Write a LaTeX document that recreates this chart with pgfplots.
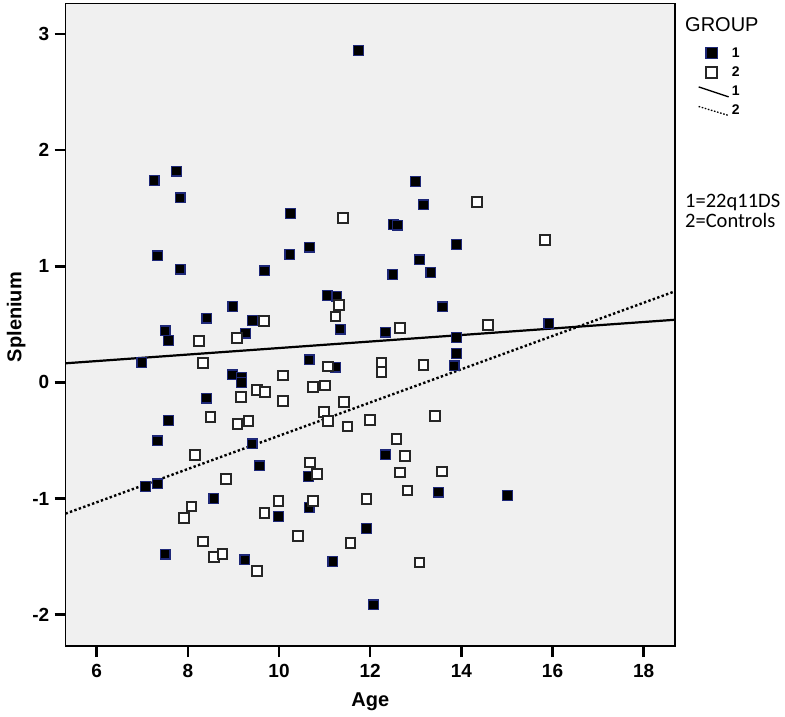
\documentclass[border=0pt]{standalone}
\usepackage{fontspec}
\setmainfont{Liberation Sans}
\newfontfamily\calib{Carlito}
\usepackage{pgfplots}
\pgfplotsset{compat=1.18}
\definecolor{bgc}{HTML}{F0F0F0}
\definecolor{navyc}{HTML}{1E2878}
\pgfplotsset{
  legmark/.style={legend image code/.code={\path[draw=none,fill=none] (0pt,-6.5pt) rectangle (30pt,6.5pt);
    \draw[mark repeat=2,mark phase=2,##1, mark size=5.6pt] plot coordinates {(0pt,0pt)(13pt,0pt)(26pt,0pt)};}},
  legsolid/.style={legend image code/.code={\path[draw=none,fill=none] (0pt,-6pt) rectangle (30pt,6pt);
    \draw[##1, line width=1.3pt] (0pt,5pt) -- (30pt,-5pt);}},
  legdot/.style={legend image code/.code={\path[draw=none,fill=none] (0pt,-6pt) rectangle (30pt,6pt);
    \draw[##1, line width=1.3pt, dash pattern=on 1.6pt off 1.6pt] (0pt,4pt) -- (30pt,-5pt);}},
}
\begin{document}
\begin{tikzpicture}
\path[use as bounding box] (0,0) rectangle (785pt,716pt);
\begin{axis}[
  at={(65.5pt,70pt)}, anchor=south west,
  scale only axis, width=609.5pt, height=642.5pt,
  xmin=5.316, xmax=18.687, ymin=-2.27, ymax=3.264,
  xtick={6,8,...,18}, ytick={-2,-1,0,1,2,3},
  xtick pos=bottom, ytick pos=left, tick align=outside,
  major tick length=11pt,
  tick style={line width=2.4pt, black},
  axis line style={line width=1.6pt, black},
  axis background/.style={fill=bgc},
  /pgf/number format/assume math mode=true,
  ticklabel style={font=\fontsize{19}{19}\selectfont\bfseries},
  xticklabel style={inner sep=0pt, yshift=-7pt},
  yticklabel style={inner sep=0pt, xshift=-5pt},
  xlabel={Age}, ylabel={Splenium},
  label style={font=\fontsize{20}{20}\selectfont\bfseries},
  xlabel style={at={(axis description cs:0.5,-0.087)}, anchor=center},
  ylabel style={at={(axis description cs:-0.081,0.512)}, anchor=center},
  legend style={at={(axis description cs:1.0377,0.9328)}, anchor=north west,
    draw=none, fill=none, inner sep=0pt, outer sep=0pt,
    row sep=6.6pt, column sep=2.5pt,
    nodes={inner sep=0pt, font=\fontsize{14}{14}\selectfont\bfseries}},
  legend cell align=left,
]
\addplot[only marks, mark=square*, mark size=4.9pt,
  mark options={fill=black, draw=navyc, line width=1.2pt}, legmark]
coordinates {
(11.75,2.86) (7.26,1.74) (7.75,1.82) (7.83,1.59) (10.25,1.455) (13.0,1.73)
(13.17,1.53) (12.51,1.36) (12.60,1.355) (13.9,1.19) (7.33,1.09) (7.83,0.976)
(9.68,0.96) (10.24,1.10) (10.67,1.165) (12.5,0.93) (13.08,1.056) (13.33,0.947)
(13.59,0.65) (11.07,0.75) (11.27,0.743) (11.34,0.46) (8.99,0.654) (8.42,0.554)
(9.42,0.533) (9.26,0.425) (7.5,0.444) (7.57,0.36) (12.33,0.433) (13.9,0.387)
(13.9,0.25) (15.92,0.51) (6.99,0.17) (10.66,0.195) (11.25,0.132) (13.84,0.143)
(8.98,0.065) (9.18,0.045) (9.18,0.0) (8.41,-0.135) (7.57,-0.33) (7.33,-0.503)
(9.41,-0.529) (12.33,-0.624) (9.57,-0.718) (10.65,-0.81) (7.07,-0.897) (7.33,-0.873)
(13.5,-0.945) (8.57,-0.997) (9.99,-1.155) (10.66,-1.077) (11.92,-1.26) (7.5,-1.479)
(9.25,-1.528) (11.18,-1.543) (12.07,-1.916) (15.01,-0.974)
};
\addlegendentry{1}
\addplot[only marks, mark=square*, mark size=4.85pt,
  mark options={fill=white, draw=black!85, line width=2pt}, legmark]
coordinates {
(11.41,1.415) (11.31,0.67) (11.24,0.568) (9.67,0.53) (9.08,0.38) (8.25,0.36)
(12.66,0.468) (14.34,1.556) (15.83,1.23) (14.58,0.496) (8.33,0.17) (11.07,0.137)
(12.25,0.17) (12.25,0.088) (13.17,0.15) (10.08,0.06) (9.17,-0.127) (9.51,-0.064)
(9.69,-0.084) (10.08,-0.158) (10.75,-0.04) (11.01,-0.026) (11.43,-0.167) (10.99,-0.256)
(11.08,-0.33) (11.5,-0.38) (12.0,-0.322) (13.42,-0.288) (8.5,-0.3) (9.09,-0.36)
(9.33,-0.33) (8.16,-0.624) (12.58,-0.488) (12.76,-0.632) (10.68,-0.69) (10.83,-0.787)
(12.65,-0.776) (13.58,-0.767) (8.83,-0.83) (12.82,-0.931) (8.08,-1.068) (7.92,-1.169)
(9.99,-1.02) (9.68,-1.126) (10.74,-1.02) (11.92,-1.003) (10.41,-1.32) (11.57,-1.384)
(8.33,-1.37) (8.58,-1.505) (8.76,-1.476) (9.51,-1.623) (13.08,-1.551)
};
\addlegendentry{2}
\addplot[black, line width=2.2pt, legsolid]
coordinates {(5.316,0.165) (18.687,0.54)};
\addlegendentry{1}
\addplot[black, line width=2.4pt, dash pattern=on 2.4pt off 2.3pt, legdot]
coordinates {(5.316,-1.13) (18.687,0.785)};
\addlegendentry{2}
\end{axis}
\node[anchor=base west, inner sep=0pt, font=\fontsize{20}{20}\selectfont] at (685pt,684.3pt) {GROUP};
\node[anchor=base west, inner sep=0pt, font=\calib\fontsize{20.5}{20.5}\selectfont] at (685pt,508.3pt) {1=22q11DS};
\node[anchor=base west, inner sep=0pt, font=\calib\fontsize{20.5}{20.5}\selectfont] at (685pt,488.7pt) {2=Controls};
\end{tikzpicture}
\end{document}
